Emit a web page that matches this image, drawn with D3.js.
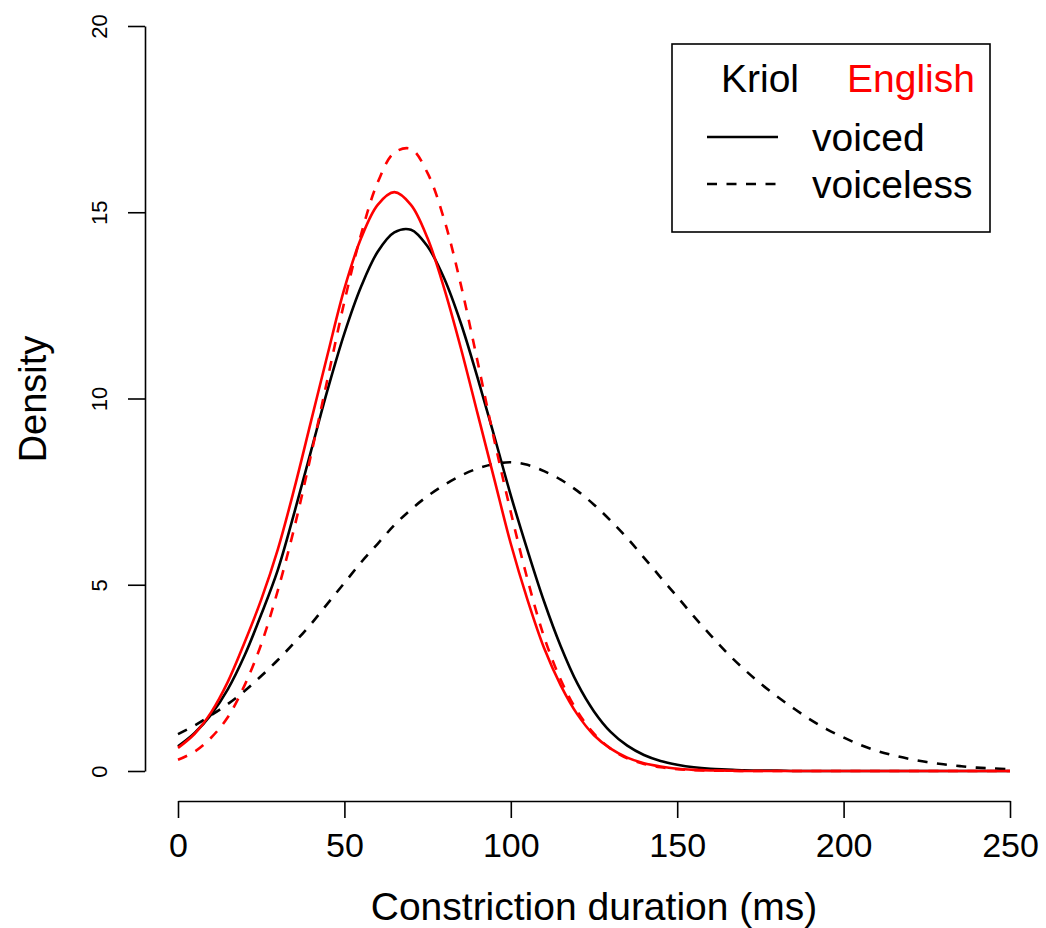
<!DOCTYPE html>
<html>
<head>
<meta charset="utf-8">
<script src="https://cdn.jsdelivr.net/npm/d3@7"></script>
<style>
  body { margin: 0; background: #fff; }
  text { font-family: "Liberation Sans", Arial, Helvetica, sans-serif; fill: #000; }
</style>
</head>
<body>
<svg id="chart" width="1046" height="928"></svg>
<script>
// Constriction duration grid (ms), shared by all four density estimates
const durationMs = d3.range(0, 251, 5);

// Kriol, voiced stops
const kriolVoiced = [0.66, 1.02, 1.52, 2.2, 3.1, 4.2, 5.4, 6.95, 8.6, 10.25,
  11.75, 13.0, 13.94, 14.46, 14.53, 14.08, 13.22, 12.02, 10.56, 9.0,
  7.4, 5.93, 4.55, 3.35, 2.35, 1.6, 1.05, 0.68, 0.43, 0.27,
  0.17, 0.1, 0.06, 0.04, 0.02, 0.01, 0.01, 0, 0, 0,
  0, 0, 0, 0, 0, 0, 0, 0, 0, 0, 0];

// Kriol, voiceless stops
const kriolVoiceless = [0.99, 1.22, 1.5, 1.8, 2.15, 2.55, 2.98, 3.45, 3.95, 4.5,
  5.05, 5.6, 6.1, 6.6, 7.02, 7.38, 7.68, 7.93, 8.12, 8.24,
  8.29, 8.22, 8.05, 7.82, 7.52, 7.15, 6.72, 6.25, 5.73, 5.2,
  4.68, 4.15, 3.65, 3.17, 2.74, 2.35, 2.0, 1.68, 1.38, 1.12,
  0.9, 0.7, 0.54, 0.42, 0.32, 0.24, 0.18, 0.13, 0.09, 0.07, 0.05];

// English, voiced stops
const englishVoiced = [0.62, 1.0, 1.58, 2.4, 3.45, 4.6, 5.95, 7.6, 9.4, 11.2,
  12.95, 14.3, 15.2, 15.54, 15.2, 14.3, 12.95, 11.35, 9.6, 7.85,
  6.1, 4.6, 3.3, 2.3, 1.52, 0.96, 0.6, 0.36, 0.21, 0.12,
  0.06, 0.03, 0.015, 0.01, 0, 0, 0, 0, 0, 0,
  0, 0, 0, 0, 0, 0, 0, 0, 0, 0, 0];

// English, voiceless stops
const englishVoiceless = [0.30, 0.52, 0.9, 1.45, 2.3, 3.4, 4.85, 6.55, 8.5, 10.55,
  12.6, 14.4, 15.8, 16.6, 16.7, 16.05, 14.8, 13.05, 11.0, 8.9,
  6.95, 5.15, 3.6, 2.45, 1.6, 1.0, 0.6, 0.34, 0.19, 0.1,
  0.05, 0.025, 0.01, 0.005, 0, 0, 0, 0, 0, 0,
  0, 0, 0, 0, 0, 0, 0, 0, 0, 0, 0];

const xTicks = [0, 50, 100, 150, 200, 250];
const yTicks = [0, 5, 10, 15, 20];

const languages = ["Kriol", "English"];
const languageColors = ["#000000", "#ff0000"];
const voicingLabels = ["voiced", "voiceless"];

const series = [
  { values: kriolVoiced, color: languageColors[0], dashed: false },
  { values: kriolVoiceless, color: languageColors[0], dashed: true },
  { values: englishVoiced, color: languageColors[1], dashed: false },
  { values: englishVoiceless, color: languageColors[1], dashed: true }
];

const svg = d3.select("#chart");
const dash = "10,9.5";

const x = d3.scaleLinear().domain([0, 250]).range([178, 1010]);
const y = d3.scaleLinear().domain([0, 20]).range([771, 26]);

// density curves
const line = d3.line()
  .x((d, i) => x(durationMs[i]))
  .y(d => y(d))
  .curve(d3.curveCatmullRom.alpha(0.5));

svg.append("g").selectAll("path")
  .data(series)
  .join("path")
  .attr("d", s => line(s.values))
  .attr("fill", "none")
  .attr("stroke", s => s.color)
  .attr("stroke-width", 2.6)
  .attr("stroke-dasharray", s => s.dashed ? dash : null);

// x axis
const xAxis = svg.append("g")
  .attr("transform", "translate(0,801)")
  .call(d3.axisBottom(x).tickValues(xTicks).tickSize(17).tickSizeOuter(0).tickFormat(d3.format("d")));
xAxis.select(".domain").attr("stroke", "#000").attr("stroke-width", 1.6);
xAxis.selectAll(".tick line").attr("stroke", "#000").attr("stroke-width", 1.6);
xAxis.selectAll(".tick text")
  .attr("y", 56).attr("dy", 0)
  .style("font-size", "34px")
  .style("font-family", "'Liberation Sans', Arial, sans-serif")
  .attr("fill", "#000");

// y axis
const yAxis = svg.append("g")
  .attr("transform", "translate(145,0)")
  .call(d3.axisLeft(y).tickValues(yTicks).tickSize(17).tickSizeOuter(0).tickFormat(d3.format("d")));
yAxis.select(".domain").attr("stroke", "#000").attr("stroke-width", 1.6);
yAxis.selectAll(".tick line").attr("stroke", "#000").attr("stroke-width", 1.6);
yAxis.selectAll(".tick text")
  .attr("transform", "rotate(-90)")
  .attr("x", 0).attr("y", -38).attr("dy", 0)
  .style("text-anchor", "middle")
  .style("font-size", "22px")
  .style("font-family", "'Liberation Sans', Arial, sans-serif")
  .attr("fill", "#000");

// axis titles
svg.append("text")
  .attr("x", 594).attr("y", 920)
  .attr("text-anchor", "middle")
  .style("font-size", "39px")
  .text("Constriction duration (ms)");

svg.append("text")
  .attr("transform", "translate(46,399) rotate(-90)")
  .attr("text-anchor", "middle")
  .style("font-size", "38px")
  .text("Density");

// legend
const legend = svg.append("g");
legend.append("rect")
  .attr("x", 672).attr("y", 44).attr("width", 318).attr("height", 188)
  .attr("fill", "#fff").attr("stroke", "#000").attr("stroke-width", 1.6);

legend.selectAll("text.lang")
  .data(languages)
  .join("text")
  .attr("class", "lang")
  .attr("x", (d, i) => i === 0 ? 721 : 847)
  .attr("y", 92)
  .style("font-size", "39px")
  .style("fill", (d, i) => languageColors[i])
  .text(d => d);

legend.selectAll("line.key")
  .data(voicingLabels)
  .join("line")
  .attr("class", "key")
  .attr("x1", 707).attr("x2", 778)
  .attr("y1", (d, i) => 137 + i * 47)
  .attr("y2", (d, i) => 137 + i * 47)
  .attr("stroke", "#000")
  .attr("stroke-width", 2.6)
  .attr("stroke-dasharray", (d, i) => i === 1 ? dash : null);

legend.selectAll("text.voicing")
  .data(voicingLabels)
  .join("text")
  .attr("class", "voicing")
  .attr("x", 812)
  .attr("y", (d, i) => 151 + i * 47)
  .style("font-size", "39px")
  .text(d => d);
</script>
</body>
</html>
